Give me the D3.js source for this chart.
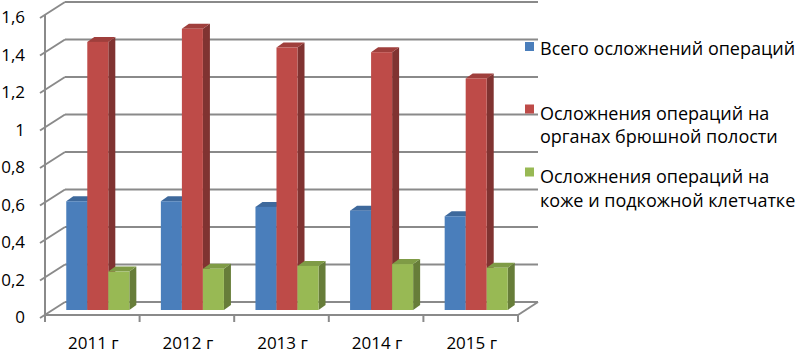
<!DOCTYPE html>
<html>
<head>
<meta charset="utf-8">
<script src="https://cdn.jsdelivr.net/npm/d3@7"></script>
<style>
  body { margin: 0; background: #fff; }
  text { font-family: "Open Sans", sans-serif; fill: #000; }
</style>
</head>
<body>
<svg id="chart" width="799" height="355"></svg>
<script>
// data
const years = ["2011 г", "2012 г", "2013 г", "2014 г", "2015 г"];
const seriesNames = [
  "Всего осложнений операций",
  "Осложнения операций на органах брюшной полости",
  "Осложнения операций на коже и подкожной клетчатке"
];
const totalAll = [0.58, 0.58, 0.55, 0.53, 0.50];
const abdominal = [1.43, 1.50, 1.40, 1.375, 1.235];
const skin = [0.205, 0.22, 0.235, 0.245, 0.225];
const yTicks = [0, 0.2, 0.4, 0.6, 0.8, 1, 1.2, 1.4, 1.6];

const colors = ["#4a7ebb", "#be4b48", "#98b954"];
const values = [totalAll, abdominal, skin];

const svg = d3.select("#chart");

// 3d offsets
const depth = { dx: 20, dy: -13 };     // floor depth, front -> back wall
const barAt = { dx: 5.5, dy: -5 };     // bar front face position inside the floor
const barDepth = { dx: 7, dy: -5 };    // bar thickness

const x = d3.scaleBand().domain(years).range([45, 518]);
const xs = d3.scaleBand().domain([0, 1, 2]).range([0, x.bandwidth()])
  .paddingInner(0).paddingOuter(0.75);
const y = d3.scaleLinear().domain([0, 1.6]).range([315, 15]); // front plane

const grid = "#8a8a8a";

// back wall gridlines and side wall diagonals
const walls = svg.append("g")
  .attr("stroke", grid).attr("stroke-width", 2).attr("fill", "none");

yTicks.forEach(t => {
  const yy = y(t);
  walls.append("line")
    .attr("x1", 45 + depth.dx).attr("y1", yy + depth.dy)
    .attr("x2", 518 + depth.dx).attr("y2", yy + depth.dy);
  walls.append("line")
    .attr("x1", 40).attr("y1", yy + 3)
    .attr("x2", 45 + depth.dx).attr("y2", yy + depth.dy);
});

// front axis line + floor
walls.append("line").attr("x1", 45).attr("y1", y(1.6)).attr("x2", 45).attr("y2", y(0));
walls.append("line").attr("x1", 45).attr("y1", y(0)).attr("x2", 518).attr("y2", y(0));
walls.append("line").attr("x1", 518).attr("y1", y(0))
  .attr("x2", 518 + depth.dx).attr("y2", y(0) + depth.dy);

// x ticks
years.map(c => x(c)).concat([x.range()[1]]).forEach(xx => {
  walls.append("line").attr("x1", xx).attr("y1", y(0)).attr("x2", xx).attr("y2", y(0) + 7);
});

// bars
const bars = svg.append("g");
years.forEach((yr, i) => {
  values.forEach((vals, s) => {
    const v = vals[i];
    const x0 = x(yr) + xs(s) + barAt.dx;
    const x1 = x0 + xs.bandwidth();
    const yb = y(0) + barAt.dy;
    const yt = y(v) + barAt.dy;
    const c = d3.color(colors[s]);
    const g = bars.append("g");
    // side face
    g.append("path")
      .attr("d", `M${x1},${yb}L${x1 + barDepth.dx},${yb + barDepth.dy}L${x1 + barDepth.dx},${yt + barDepth.dy}L${x1},${yt}Z`)
      .attr("fill", c.darker(1.1));
    // top face
    g.append("path")
      .attr("d", `M${x0},${yt}L${x1},${yt}L${x1 + barDepth.dx},${yt + barDepth.dy}L${x0 + barDepth.dx},${yt + barDepth.dy}Z`)
      .attr("fill", c.darker(0.5));
    // front face
    g.append("rect")
      .attr("x", x0).attr("y", yt)
      .attr("width", x1 - x0).attr("height", yb - yt)
      .attr("fill", c);
  });
});

// y labels
svg.append("g").selectAll("text")
  .data(yTicks)
  .join("text")
  .attr("x", 25)
  .attr("y", d => y(d) + 8)
  .attr("text-anchor", "end")
  .attr("font-size", 17)
  .text(d => String(d).replace(".", ","));

// x labels
svg.append("g").selectAll("text")
  .data(years)
  .join("text")
  .attr("x", d => x(d) + x.bandwidth() / 2 + 1)
  .attr("y", 349)
  .attr("text-anchor", "middle")
  .attr("font-size", 17)
  .text(d => d);

// legend
const legendLines = [
  ["Всего осложнений операций"],
  ["Осложнения операций на", "органах брюшной полости"],
  ["Осложнения операций на", "коже и подкожной клетчатке"]
];
const legendBase = [55, 119.5, 183];
const legendBox = [42, 104.5, 167.5];
const legend = svg.append("g");
legendLines.forEach((lines, s) => {
  legend.append("rect")
    .attr("x", 525).attr("y", legendBox[s])
    .attr("width", 9).attr("height", 9)
    .attr("fill", colors[s]);
  legend.append("text")
    .attr("x", 540).attr("y", legendBase[s])
    .attr("font-size", 18)
    .selectAll("tspan")
    .data(lines)
    .join("tspan")
    .attr("x", 540)
    .attr("dy", (d, j) => j === 0 ? 0 : 23.5)
    .text(d => d);
});
</script>
</body>
</html>
